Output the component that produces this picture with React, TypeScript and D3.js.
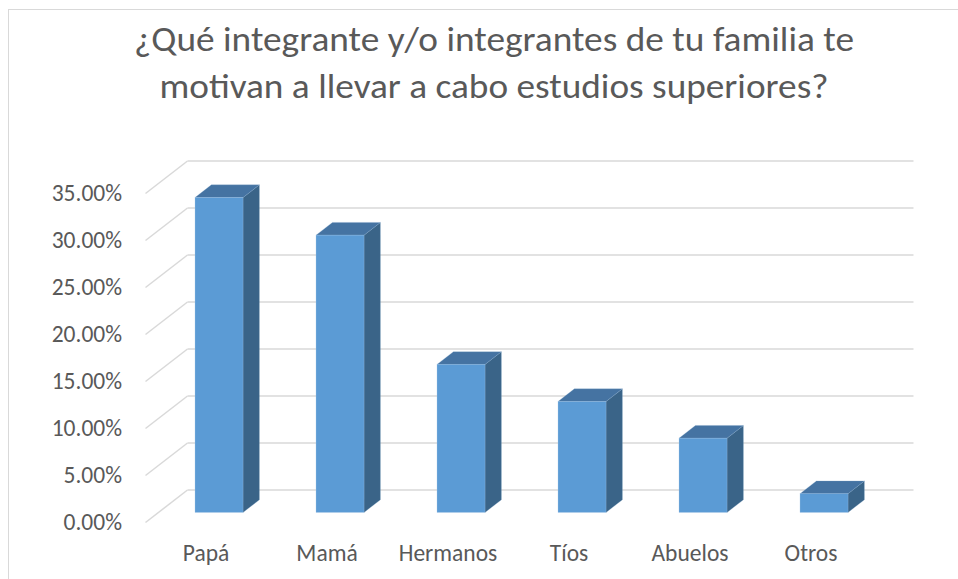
import React from "react";
import * as d3 from "d3";

const categories = ["Papá", "Mamá", "Hermanos", "Tíos", "Abuelos", "Otros"];
const values = [33.5, 29.5, 15.75, 11.8, 7.9, 2.0];
const tickValues = [0, 5, 10, 15, 20, 25, 30, 35];
const titleLines = [
  "¿Qué integrante y/o integrantes de tu familia te",
  "motivan a llevar a cabo estudios superiores?",
];

const W = 958;
const H = 579;
const FONT = "Calibri, Carlito, 'Open Sans', sans-serif";
const TEXT = "#595959";
const GRID = "#D9D9D9";
const FRONT = "#5B9BD5";
const TOP = "#4573A2";
const SIDE = "#3A6488";

// oblique depth
const DX = 42;
const DY = -32.5;
const A = 0.31; // bar depth start fraction
const B = 0.70; // bar depth end fraction

export default function App() {
  const x = d3.scaleBand<string>().domain(categories).range([145.5, 871.5]).paddingInner(0).paddingOuter(0);
  const y = d3.scaleLinear().domain([0, 35]).range([522.5, 193.5]);
  const barW = 48;

  return (
    <svg
      width={W}
      height={H}
      style={{ position: "absolute", left: 0, top: 0, background: "#fff" }}
      fontFamily={FONT}
    >
      <rect x={8.5} y={9.5} width={W + 10} height={H + 10} fill="#fff" stroke={GRID} strokeWidth={1} />
      {titleLines.map((t, i) => (
        <text
          key={i}
          x={494}
          y={51 + i * 47}
          textAnchor="middle"
          fontSize={35}
          fill={TEXT}
          textLength={i === 0 ? 720 : 669}
          lengthAdjust="spacingAndGlyphs"
        >
          {t}
        </text>
      ))}
      {/* gridlines */}
      {tickValues.map((v) => {
        const x0 = x.range()[0];
        const x1 = x.range()[1];
        const yf = y(v);
        return (
          <g key={v}>
            <line x1={x0} y1={yf} x2={x0 + DX} y2={yf + DY} stroke={GRID} strokeWidth={1.5} />
            <line x1={x0 + DX} y1={yf + DY} x2={x1 + DX} y2={yf + DY} stroke={GRID} strokeWidth={1.5} />
          </g>
        );
      })}
      {/* tick labels */}
      {tickValues.map((v) => (
        <text key={v} x={122} y={y(v) - 1} dy="0.35em" textAnchor="end" fontSize={23.5} fill={TEXT}>
          {v.toFixed(2) + "%"}
        </text>
      ))}
      {/* bars */}
      {categories.map((c, i) => {
        const cx = (x(c) as number) + x.bandwidth() / 2 + A * DX;
        const bx0 = cx - barW / 2;
        const bx1 = cx + barW / 2;
        const yb = y(0) + A * DY;
        const yt = y(values[i]) + A * DY;
        const ddx = (B - A) * DX;
        const ddy = (B - A) * DY;
        const top = `M${bx0},${yt} L${bx0 + ddx},${yt + ddy} L${bx1 + ddx},${yt + ddy} L${bx1},${yt} Z`;
        const side = `M${bx1},${yt} L${bx1 + ddx},${yt + ddy} L${bx1 + ddx},${yb + ddy} L${bx1},${yb} Z`;
        return (
          <g key={c}>
            <path d={side} fill={SIDE} stroke="#7FA6CC" strokeWidth={0.5} strokeOpacity={0.5} />
            <path d={top} fill={TOP} stroke="#7FA6CC" strokeWidth={0.5} strokeOpacity={0.5} />
            <rect x={bx0} y={yt} width={barW} height={yb - yt} fill={FRONT} stroke="#9DC3E6" strokeWidth={0.5} strokeOpacity={0.6} />
          </g>
        );
      })}
      {/* category labels */}
      {categories.map((c) => (
        <text
          key={c}
          x={(x(c) as number) + x.bandwidth() / 2}
          y={561}
          textAnchor="middle"
          fontSize={23.5}
          fill={TEXT}
        >
          {c}
        </text>
      ))}
    </svg>
  );
}
